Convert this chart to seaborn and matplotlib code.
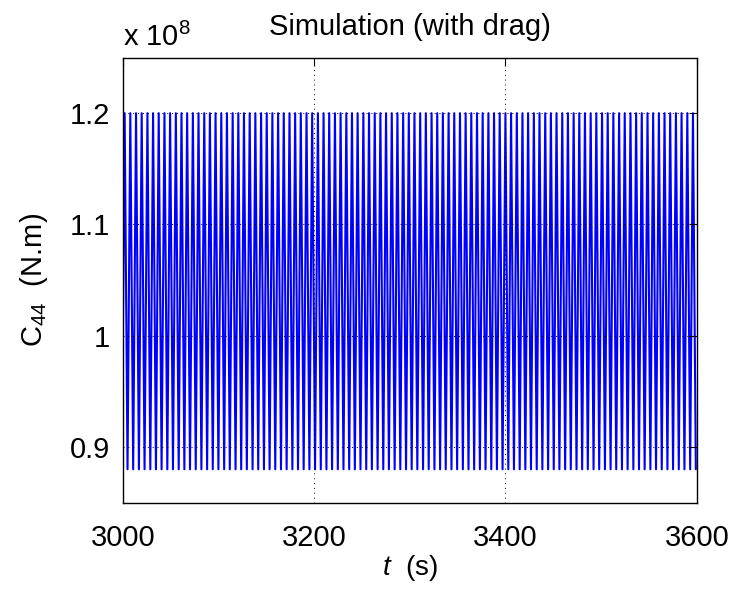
import matplotlib
matplotlib.use("Agg")
import matplotlib.pyplot as plt
import seaborn as sns
import pandas as pd
from matplotlib.ticker import FuncFormatter

# ---- data ----
# times (s) of the oscillation crests and troughs, and their values (N.m)
crest_t = [3002.0, 3007.9, 3013.9, 3019.8, 3025.8, 3031.7, 3037.6, 3043.6, 3049.5, 3055.5,
           3061.4, 3067.3, 3073.3, 3079.2, 3085.2, 3091.1, 3097.0, 3103.0, 3108.9, 3114.9,
           3120.8, 3126.7, 3132.7, 3138.6, 3144.6, 3150.5, 3156.4, 3162.4, 3168.3, 3174.3,
           3180.2, 3186.1, 3192.1, 3198.0, 3204.0, 3209.9, 3215.8, 3221.8, 3227.7, 3233.7,
           3239.6, 3245.5, 3251.5, 3257.4, 3263.4, 3269.3, 3275.2, 3281.2, 3287.1, 3293.1,
           3299.0, 3304.9, 3310.9, 3316.8, 3322.8, 3328.7, 3334.6, 3340.6, 3346.5, 3352.5,
           3358.4, 3364.3, 3370.3, 3376.2, 3382.2, 3388.1, 3394.0, 3400.0, 3405.9, 3411.9,
           3417.8, 3423.7, 3429.7, 3435.6, 3441.6, 3447.5, 3453.4, 3459.4, 3465.3, 3471.3,
           3477.2, 3483.1, 3489.1, 3495.0, 3501.0, 3506.9, 3512.8, 3518.8, 3524.7, 3530.7,
           3536.6, 3542.5, 3548.5, 3554.4, 3560.4, 3566.3, 3572.2, 3578.2, 3584.1, 3590.1,
           3596.0]
trough_t = [3000.0, 3005.0, 3010.9, 3016.9, 3022.8, 3028.8, 3034.7, 3040.6, 3046.6, 3052.5,
            3058.5, 3064.4, 3070.3, 3076.3, 3082.2, 3088.2, 3094.1, 3100.0, 3106.0, 3111.9,
            3117.9, 3123.8, 3129.7, 3135.7, 3141.6, 3147.6, 3153.5, 3159.4, 3165.4, 3171.3,
            3177.3, 3183.2, 3189.1, 3195.1, 3201.0, 3207.0, 3212.9, 3218.8, 3224.8, 3230.7,
            3236.7, 3242.6, 3248.5, 3254.5, 3260.4, 3266.4, 3272.3, 3278.2, 3284.2, 3290.1,
            3296.1, 3302.0, 3307.9, 3313.9, 3319.8, 3325.8, 3331.7, 3337.6, 3343.6, 3349.5,
            3355.5, 3361.4, 3367.3, 3373.3, 3379.2, 3385.2, 3391.1, 3397.0, 3403.0, 3408.9,
            3414.9, 3420.8, 3426.7, 3432.7, 3438.6, 3444.6, 3450.5, 3456.4, 3462.4, 3468.3,
            3474.3, 3480.2, 3486.1, 3492.1, 3498.0, 3504.0, 3509.9, 3515.8, 3521.8, 3527.7,
            3533.7, 3539.6, 3545.5, 3551.5, 3557.4, 3563.4, 3569.3, 3575.2, 3581.2, 3587.1,
            3593.1, 3599.0]
crest_value = 1.200e8
trough_value = 0.880e8
start_value = 0.985e8   # value at t = 3000 s

x_ticks = [3000, 3200, 3400, 3600]
y_ticks = [0.9e8, 1.0e8, 1.1e8, 1.2e8]

# ---- assemble the series ----
pts = [(t, crest_value) for t in crest_t] + [(t, trough_value) for t in trough_t[1:]]
pts.append((trough_t[0], start_value))
df = pd.DataFrame(pts, columns=["t", "C44"]).sort_values("t").reset_index(drop=True)

sns.set_style("white")
fam = ["Liberation Sans", "DejaVu Sans"]
plt.rcParams["font.family"] = fam
plt.rcParams["text.color"] = "black"
plt.rcParams["axes.labelcolor"] = "black"
plt.rcParams["mathtext.fontset"] = "custom"
plt.rcParams["mathtext.rm"] = "Liberation Sans"
plt.rcParams["mathtext.it"] = "Liberation Sans:italic"

fig = plt.figure(figsize=(7.35, 5.90), dpi=100)
ax = fig.add_axes([0.167, 0.148, 0.781, 0.7545])

sns.lineplot(data=df, x="t", y="C44", ax=ax, color="#0000ff", linewidth=1.5,
             estimator=None, sort=False)

ax.set_xlim(3000, 3600)
ax.set_ylim(0.85e8, 1.25e8)
ax.set_xticks(x_ticks)
ax.set_yticks(y_ticks)
ax.yaxis.set_major_formatter(FuncFormatter(lambda v, p: "%g" % round(v / 1e8, 3)))
ax.grid(True, color="black", linestyle=(0, (1, 4)), linewidth=0.7)
ax.set_axisbelow(False)
for s in ax.spines.values():
    s.set_color("black")
    s.set_linewidth(1.0)
ax.tick_params(direction="in", length=6, width=0.8, top=True, right=True,
               labelsize=21, colors="black")
ax.tick_params(axis="x", pad=15)
ax.tick_params(axis="y", pad=9)

ax.set_xlabel(r"$t$  (s)", fontsize=20, labelpad=1, color="black")
ax.set_ylabel(r"C$_{44}$  (N.m)", fontsize=21, labelpad=14, color="black")
ax.set_title("Simulation (with drag)", fontsize=21, pad=16, color="black")
fig.text(0.167, 0.922, r"x 10$^{8}$", fontsize=21, ha="left", va="baseline", color="black")

fig.savefig("out.png", dpi=100)
